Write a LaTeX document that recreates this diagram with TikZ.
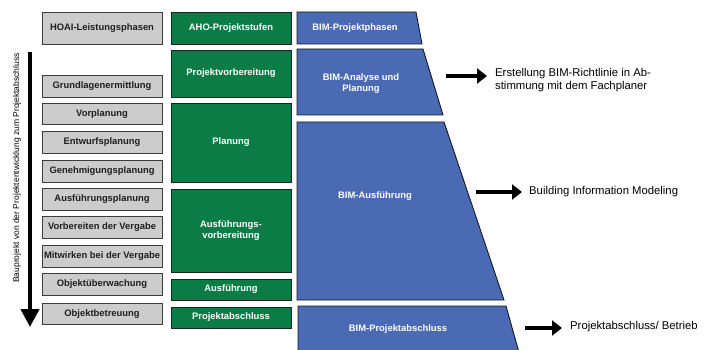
\documentclass[tikz,border=0pt]{standalone}
\usepackage{fontspec}
\setmainfont{Liberation Sans}
\usetikzlibrary{arrows.meta}
\definecolor{grayfill}{RGB}{204,204,204}
\definecolor{grayline}{RGB}{60,60,60}
\definecolor{greenfill}{RGB}{12,124,70}
\definecolor{greenline}{RGB}{20,40,28}
\definecolor{bluefill}{RGB}{74,106,180}
\definecolor{blueline}{RGB}{20,24,40}
\definecolor{txtdark}{RGB}{30,30,30}
\tikzset{
  graybox/.style={draw=grayline, fill=grayfill, line width=0.9pt, minimum width=120pt, inner sep=0pt, text=txtdark, font=\fontsize{9.4}{11.5}\selectfont\bfseries},
  greenbox/.style={draw=greenline, fill=greenfill, line width=0.9pt, minimum width=120pt, inner sep=0pt, text=white, font=\fontsize{9.4}{11.5}\selectfont\bfseries, align=center},
  bluetrap/.style={fill=bluefill, draw=blueline, line width=0.9pt, line join=miter},
  bluetext/.style={text=white, font=\fontsize{9.4}{11.5}\selectfont\bfseries, align=center, inner sep=0pt},
  sidetext/.style={text=black, font=\fontsize{11.3}{12.5}\selectfont, align=left, anchor=west, inner sep=0pt},
  bigarrow/.style={line width=3.8pt, -{Triangle[length=10pt,width=15pt]}},
}
\begin{document}
\begin{tikzpicture}[x=1pt,y=-1pt]
\useasboundingbox (0,0) rectangle (715,350);
% gray column
\node[graybox, minimum height=32pt] (hoai) at (102,28) {HOAI-Leistungsphasen};
\node[graybox, minimum height=21.5pt] (g1) at (102,86.5) {Grundlagenermittlung};
\node[graybox, minimum height=21.5pt] (g2) at (102,114) {Vorplanung};
\node[graybox, minimum height=21.5pt] (g3) at (102,142.5) {Entwurfsplanung};
\node[graybox, minimum height=21.5pt] (g4) at (102,171.5) {Genehmigungsplanung};
\node[graybox, minimum height=21.5pt] (g5) at (102,199.5) {Ausführungsplanung};
\node[graybox, minimum height=21.5pt] (g6) at (102,227.5) {Vorbereiten der Vergabe};
\node[graybox, minimum height=21.5pt] (g7) at (102,256.5) {Mitwirken bei der Vergabe};
\node[graybox, minimum height=21.5pt] (g8) at (102,284.5) {Objektüberwachung};
\node[graybox, minimum height=21.5pt] (g9) at (102,314) {Objektbetreuung};
% green column
\node[greenbox, minimum height=32pt] (aho) at (231,28) {AHO-Projektstufen};
\node[greenbox, minimum height=47pt] (p1) at (231,73.5) {Projektvorbereitung};
\node[greenbox, minimum height=79pt] (p2) at (231,142.5) {Planung};
\node[greenbox, minimum height=83pt] (p3) at (231,230.5) {Ausführungs-\\vorbereitung};
\node[greenbox, minimum height=21pt] (p4) at (231,289.5) {Ausführung};
\node[greenbox, minimum height=21pt] (p5) at (231,317.5) {Projektabschluss};
% blue column
\draw[bluetrap] (297,12) -- (416,12) -- (422,44) -- (297,44) -- cycle;
\draw[bluetrap] (297,49) -- (423,49) -- (443,115) -- (297,115) -- cycle;
\draw[bluetrap] (297,122) -- (444,122) -- (504,300) -- (297,300) -- cycle;
\begin{scope}
\clip (0,0) rectangle (715,350);
\fill[bluefill] (298,306) -- (506,306) -- (520,356) -- (298,356) -- cycle;
\draw[blueline, line width=0.9pt] (298,356) -- (298,306) -- (506,306) -- (520,356);
\end{scope}
\node[bluetext] (b0) at (355,28) {BIM-Projektphasen};
\node[bluetext] (b1) at (361,83.5) {BIM-Analyse und\\Planung};
\node[bluetext] (b2) at (375,196) {BIM-Ausführung};
\node[bluetext] (b3) at (398,329) {BIM-Projektabschluss};
% right side
\node[sidetext] (t1) at (495,80) {Erstellung BIM-Richtlinie in Ab-\\stimmung mit dem Fachplaner};
\node[sidetext] (t2) at (529,192) {Building Information Modeling};
\node[sidetext] (t3) at (570,327) {Projektabschluss/ Betrieb};
\coordinate (a1s) at (446,76);
\coordinate (a1e) at (487,76);
\coordinate (a2s) at (476,192);
\coordinate (a2e) at (522,192);
\coordinate (a3s) at (525,328);
\coordinate (a3e) at (562,328);
\draw[bigarrow] (a1s) -- (a1e);
\draw[bigarrow] (a2s) -- (a2e);
\draw[bigarrow] (a3s) -- (a3e);
% left arrow
\coordinate (ls) at (30,52);
\coordinate (le) at (30,327);
\draw[line width=4pt, -{Triangle[length=18pt,width=18pt]}] (ls) -- (le);
\node[rotate=90, font=\fontsize{8.5}{10}\selectfont, inner sep=0pt] (lt) at (17,168) {Bauprojekt von der Projektentwicklung zum Projektabschluss};
\end{tikzpicture}
\end{document}
